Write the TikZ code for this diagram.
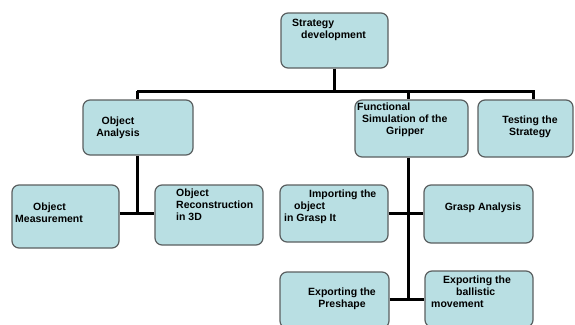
\documentclass[tikz,border=0pt]{standalone}
\usepackage{fontspec}
\setmainfont{Liberation Sans}
\definecolor{boxfill}{HTML}{B9DFE3}
\definecolor{boxline}{HTML}{5A5F60}
\begin{document}
\begin{tikzpicture}[x=1pt,y=-1pt,
  box/.style={draw=boxline, line width=1.2pt, fill=boxfill, rounded corners=7pt, inner sep=0pt},
  txt/.style={font=\fontsize{10.5}{11.8}\selectfont\bfseries, inner sep=0pt},
  conn/.style={draw=black, line width=3pt}]
\useasboundingbox (0,0) rectangle (575,324);
% boxes
\node[box, minimum width=107pt, minimum height=55pt] (top) at (334.5,40.5) {};
\node[box, minimum width=110pt, minimum height=55pt] (oa) at (138,127.5) {};
\node[box, minimum width=113pt, minimum height=57pt] (fs) at (411.5,128.5) {};
\node[box, minimum width=95pt, minimum height=57pt] (ts) at (525.5,128.5) {};
\node[box, minimum width=107pt, minimum height=63pt] (om) at (65.5,216.5) {};
\node[box, minimum width=108pt, minimum height=60pt] (or) at (209,215) {};
\node[box, minimum width=108pt, minimum height=57pt] (im) at (334,213.5) {};
\node[box, minimum width=109pt, minimum height=58pt] (ga) at (478.5,214) {};
\node[box, minimum width=109pt, minimum height=56pt] (ep) at (334.5,300) {};
\node[box, minimum width=108pt, minimum height=56pt] (eb) at (479,299) {};
% texts
\node[txt, align=left, anchor=north west] (topt) at (292,19) {Strategy\\\hspace*{9pt}development};
\node[txt, align=center] (oat) at (118,128) {Object\\Analysis};
\node[txt, align=left, anchor=north west] (fst) at (357,103) {Functional\\\hspace*{5pt}Simulation of the\\\hspace*{29pt}Gripper};
\node[txt, align=center] (tst) at (530,127) {Testing the\\Strategy};
\node[txt, align=left, anchor=north west] (omt) at (15,203) {\hspace*{18pt}Object\\Measurement};
\node[txt, align=left, anchor=north west] (ort) at (176,189) {Object\\Reconstruction\\in 3D};
\node[txt, align=left, anchor=north west] (imt) at (284,190) {\hspace*{25pt}Importing the\\\hspace*{10pt}object\\in Grasp It};
\node[txt] (gat) at (483,208) {Grasp Analysis};
\node[txt, align=center] (ept) at (342,299) {Exporting the\\Preshape};
\node[txt, align=left, anchor=north west] (ebt) at (431,276) {\hspace*{12pt}Exporting the\\\hspace*{25pt}ballistic\\movement};
% junctions
\coordinate (j1) at (137,91);
\coordinate (j2) at (533,91);
\coordinate (j3) at (408,91);
\coordinate (k1) at (137,213);
\coordinate (k2) at (408,213);
\coordinate (k3) at (408,299);
% connectors
\draw[conn] (top.south) -- (top.south |- j1);
\draw[conn] (j1) -- (j2) -- (j2 |- ts.north);
\draw[conn] (j1) -- (j1 |- oa.north);
\draw[conn] (j3) -- (j3 |- fs.north);
\draw[conn] (j1 |- oa.south) -- (k1);
\draw[conn] (om.east |- k1) -- (or.west |- k1);
\draw[conn] (j3 |- fs.south) -- (k3);
\draw[conn] (im.east |- k2) -- (ga.west |- k2);
\draw[conn] (ep.east |- k3) -- (eb.west |- k3);
\end{tikzpicture}
\end{document}
